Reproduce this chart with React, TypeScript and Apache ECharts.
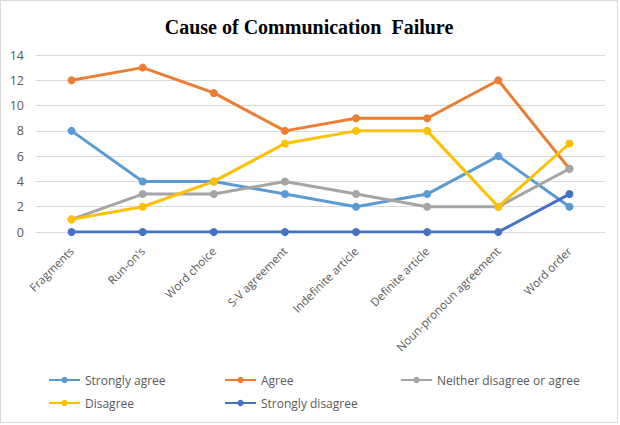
import React, { useEffect, useRef } from "react";
import * as echarts from "echarts";

const categories = [
  "Fragments",
  "Run-on's",
  "Word choice",
  "S-V agreement",
  "Indefinite article",
  "Definite article",
  "Noun-pronoun agreement",
  "Word order",
];

const stronglyAgree = [8, 4, 4, 3, 2, 3, 6, 2];
const agree = [12, 13, 11, 8, 9, 9, 12, 5];
const neither = [1, 3, 3, 4, 3, 2, 2, 5];
const disagree = [1, 2, 4, 7, 8, 8, 2, 7];
const stronglyDisagree = [0, 0, 0, 0, 0, 0, 0, 3];

const seriesDefs = [
  { name: "Strongly agree", data: stronglyAgree, color: "#5B9BD5" },
  { name: "Agree", data: agree, color: "#ED7D31" },
  { name: "Neither disagree or agree", data: neither, color: "#A5A5A5" },
  { name: "Disagree", data: disagree, color: "#FFC000" },
  { name: "Strongly disagree", data: stronglyDisagree, color: "#4472C4" },
];

const FONT = "'Open Sans', 'Noto Sans', sans-serif";

export default function App() {
  const ref = useRef<HTMLDivElement>(null);

  useEffect(() => {
    if (!ref.current) return;
    const chart = echarts.init(ref.current, undefined, { renderer: "svg" });

    const legendBase = {
      orient: "vertical" as const,
      itemWidth: 31,
      itemHeight: 8,
      itemGap: 11,
      textStyle: { fontFamily: FONT, fontSize: 12, color: "#595959" },
    };

    chart.setOption({
      animation: false,
      backgroundColor: "#ffffff",
      title: {
        text: "Cause of Communication  Failure",
        left: "center",
        top: 11,
        textStyle: {
          fontFamily: "'Liberation Serif', 'Times New Roman', serif",
          fontWeight: "bold",
          fontSize: 20,
          color: "#000000",
        },
      },
      grid: { left: 35, right: 12, top: 54, bottom: 190, containLabel: false },
      legend: [
        { ...legendBase, left: 42, top: 368, data: ["Strongly agree", "Disagree"] },
        { ...legendBase, left: 218, top: 368, data: ["Agree", "Strongly disagree"] },
        { ...legendBase, left: 394, top: 368, data: ["Neither disagree or agree"] },
      ],
      xAxis: {
        type: "category",
        data: categories,
        boundaryGap: true,
        axisLine: { show: true, lineStyle: { color: "#d9d9d9" } },
        axisTick: { show: false },
        axisLabel: {
          rotate: 45,
          interval: 0,
          margin: 17,
          fontFamily: FONT,
          fontSize: 11.5,
          color: "#595959",
        },
      },
      yAxis: {
        type: "value",
        min: 0,
        max: 14,
        interval: 2,
        axisLine: { show: false },
        axisTick: { show: false },
        axisLabel: { fontFamily: FONT, fontSize: 12.5, color: "#595959", margin: 12 },
        splitLine: { lineStyle: { color: "#d9d9d9", width: 1 } },
      },
      series: seriesDefs.map((s) => ({
        name: s.name,
        type: "line",
        data: s.data,
        symbol: "circle",
        symbolSize: 8,
        color: s.color,
        lineStyle: { width: 3, color: s.color },
        itemStyle: { color: s.color },
      })),
    });

    return () => chart.dispose();
  }, []);

  return (
    <div
      style={{
        position: "fixed",
        left: 0,
        top: 0,
        width: 618,
        height: 423,
        boxSizing: "border-box",
        border: "1px solid #d9d9d9",
        background: "#ffffff",
      }}
    >
      <div ref={ref} style={{ width: 616, height: 421 }} />
    </div>
  );
}
